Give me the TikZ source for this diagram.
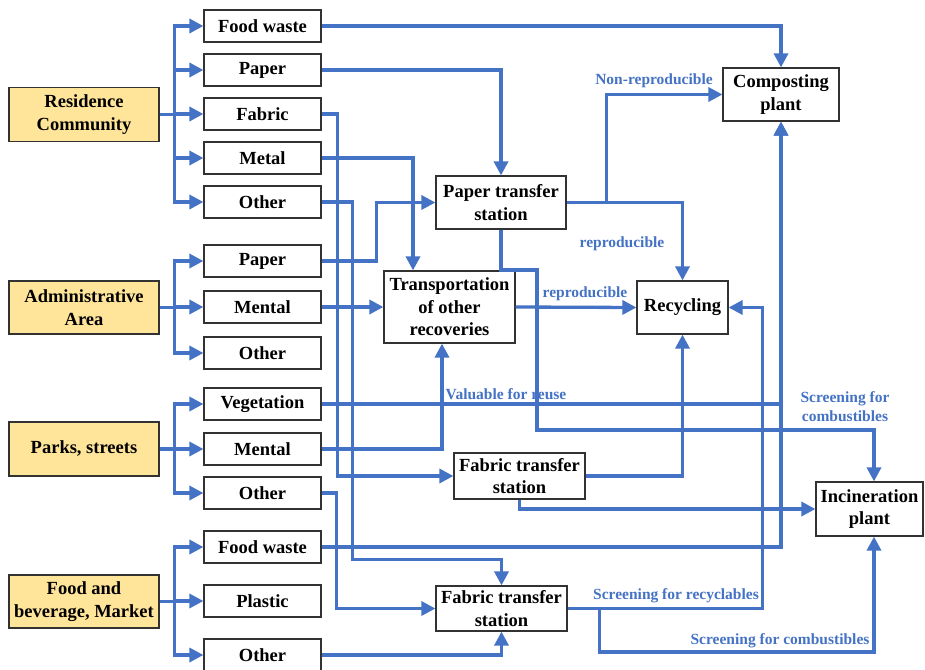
\documentclass[tikz,border=0pt]{standalone}
\usepackage{fontspec}
\setmainfont{Liberation Serif}
\usetikzlibrary{arrows.meta}
\definecolor{lineblue}{RGB}{68,114,196}
\definecolor{srcfill}{RGB}{255,229,153}
\definecolor{boxdraw}{RGB}{50,50,50}
\tikzset{
  box/.style={draw=boxdraw, line width=1.2pt, fill=white, inner sep=0pt, align=center,
    font=\fontsize{18.5}{22.5}\selectfont\bfseries},
  srcbox/.style={box, fill=srcfill},
  catbox/.style={box, minimum width=117pt, minimum height=32pt},
  conn/.style={draw=lineblue, line width=3.3pt},
  arr/.style={conn, -{Triangle[length=14pt,width=14pt]}},
  lbl/.style={text=lineblue, font=\fontsize{15.5}{19}\selectfont\bfseries, align=center, inner sep=0pt}
}
\begin{document}
\begin{tikzpicture}[x=1pt,y=-1pt]
\useasboundingbox (0,0) rectangle (925,669);
% source nodes
\node[srcbox, minimum width=150pt, minimum height=53.5pt] (res) at (84,114.5) {Residence\\Community};
\node[srcbox, minimum width=150pt, minimum height=53pt] (adm) at (84,307.5) {Administrative\\Area};
\node[srcbox, minimum width=150pt, minimum height=54pt] (park) at (84,449) {Parks, streets};
\node[srcbox, minimum width=150pt, minimum height=53pt] (mkt) at (84,601.5) {Food and\\beverage, Market};
% categories
\node[catbox] (rfw) at (262.5,26) {Food waste};
\node[catbox] (rpa) at (262.5,70) {Paper};
\node[catbox] (rfa) at (262.5,114) {Fabric};
\node[catbox] (rme) at (262.5,158) {Metal};
\node[catbox] (rot) at (262.5,202) {Other};
\node[catbox] (apa) at (262.5,261) {Paper};
\node[catbox] (ame) at (262.5,307) {Mental};
\node[catbox] (aot) at (262.5,353) {Other};
\node[catbox] (pve) at (262.5,404) {Vegetation};
\node[catbox] (pme) at (262.5,449) {Mental};
\node[catbox] (pot) at (262.5,493) {Other};
\node[catbox] (ffw) at (262.5,547) {Food waste};
\node[catbox] (fpl) at (262.5,601) {Plastic};
\node[catbox] (fot) at (262.5,655) {Other};
% facilities
\node[box, minimum width=116pt, minimum height=53pt] (comp) at (781,94.5) {Composting\\plant};
\node[box, minimum width=130pt, minimum height=53pt] (pts) at (501,202.5) {Paper transfer\\station};
\node[box, minimum width=131pt, minimum height=72pt] (tor) at (449.5,307) {Transportation\\of other\\recoveries};
\node[box, minimum width=91pt, minimum height=53pt] (rec) at (682.5,307.5) {Recycling};
\node[box, minimum width=131pt, minimum height=46pt] (fts1) at (519.5,476) {Fabric transfer\\station};
\node[box, minimum width=131pt, minimum height=45pt] (fts2) at (501.5,608.5) {Fabric transfer\\station};
\node[box, minimum width=107pt, minimum height=54pt] (inc) at (869.5,509) {Incineration\\plant};
% source branches
\foreach \c in {rfw,rpa,rfa,rme,rot} \draw[arr] (res.east) -- ++(15,0) |- (\c.west);
\foreach \c in {apa,ame,aot} \draw[arr] (adm.east) -- ++(15,0) |- (\c.west);
\foreach \c in {pve,pme,pot} \draw[arr] (park.east) -- ++(15,0) |- (\c.west);
\foreach \c in {ffw,fpl,fot} \draw[arr] (mkt.east) -- ++(15,0) |- (\c.west);
% residence
\draw[arr] (rfw.east) -| (comp.north);
\draw[arr] (rpa.east) -| (pts.north);
\draw[arr] (rfa.east) -- ++(16,0) |- (fts1.west);
\draw[arr] (rme.east) -| ([xshift=-36.5pt]tor.north);
\draw[arr] (rot.east) -- ++(31,0) |- ([yshift=26pt]fts2.north) -- (fts2.north);
% administrative
\draw[arr] (apa.east) -- ++(55,0) |- (pts.west);
\draw[arr] (ame.east) -- (tor.west);
% parks
\draw[arr] (pve.east) -| (comp.south);
\draw[arr] (pme.east) -| ([xshift=-7.5pt]tor.south);
\draw[arr] (pot.east) -- ++(15,0) |- (fts2.west);
% market
\draw[arr] (ffw.east) -| (comp.south);
\draw[arr] (fot.east) -| (fts2.south);
% paper transfer station
\draw[arr] (pts.east) -| (rec.north);
\draw[arr] ([xshift=40pt]pts.east) |- (comp.west);
\draw[arr] (pts.south) -- (501,270) -- (537,270) -- (537,430) -| ([xshift=4.5pt]inc.north);
% transportation
\draw[arr] (tor.east) -- (rec.west);
% fabric transfer 1
\draw[arr] (fts1.east) -| (rec.south);
\draw[arr] (fts1.south) |- (inc.west);
% fabric transfer 2
\draw[arr] (fts2.east) -| ([xshift=34pt]rec.east) -- (rec.east);
\draw[arr] ([xshift=32pt]fts2.east) -- ++(0,43.5) -| ([xshift=4.5pt]inc.south);
% labels
\node[lbl] (l1) at (654,81) {Non-reproducible};
\node[lbl] (l2) at (622,244) {reproducible};
\node[lbl] (l3) at (585,294) {reproducible};
\node[lbl] (l4) at (506,394) {Valuable for reuse};
\node[lbl] (l5) at (845,406.5) {Screening for\\combustibles};
\node[lbl] (l6) at (676,596) {Screening for recyclables};
\node[lbl] (l7) at (780,641) {Screening for combustibles};
\end{tikzpicture}
\end{document}
